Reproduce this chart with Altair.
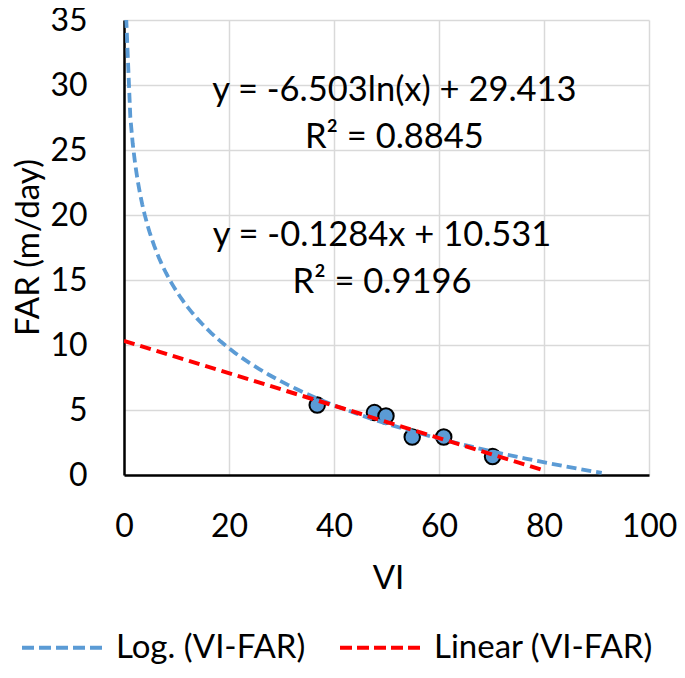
import altair as alt
import pandas as pd

vi_values = [36.8, 47.7, 49.9, 54.9, 60.9, 70.2]
far_values = [5.38, 4.80, 4.54, 2.92, 2.92, 1.42]

x_ticks = [0, 20, 40, 60, 80, 100]
y_ticks = [0, 5, 10, 15, 20, 25, 30, 35]

series_names = ["Log. (VI-FAR)", "Linear (VI-FAR)"]
series_colors = ["#5B9BD5", "#FF0000"]

log_label = ["y = -6.503ln(x) + 29.413", "R² = 0.8845"]
lin_label = ["y = -0.1284x + 10.531", "R² = 0.9196"]

df = pd.DataFrame({"VI": vi_values, "FAR": far_values})

FONT = "Lato"
FS = 32

x_enc = alt.X(
    "VI:Q",
    scale=alt.Scale(domain=[0, 100], nice=False),
    axis=alt.Axis(
        values=x_ticks, title="VI", titleX=264, titleY=103,
        titleBaseline="middle", titleAlign="center", labelPadding=36,
        labelFlush=False, titleFontSize=33,
    ),
)
y_enc = alt.Y(
    "FAR:Q",
    scale=alt.Scale(domain=[0, 35], nice=False),
    axis=alt.Axis(
        values=y_ticks, title="FAR (m/day)", titleX=-96, titleY=227,
        titleBaseline="middle", titleAlign="center", titleAngle=270,
        labelPadding=37, labelFlush=False, titleFontSize=33,
    ),
)

color_enc = alt.Color(
    "series:N",
    scale=alt.Scale(domain=series_names, range=series_colors),
    legend=alt.Legend(
        title=None, orient="none", legendX=-104, legendY=584,
        direction="horizontal", symbolType="stroke", symbolSize=6889,
        symbolStrokeWidth=4, symbolDash=[12, 5], labelFontSize=33,
        labelFont=FONT, labelColor="black", labelOffset=9,
        columnPadding=26, labelLimit=500,
    ),
)

base = alt.Chart(df)

points = base.mark_point(
    filled=True, size=240, fill="#5B9BD5", stroke="black",
    strokeWidth=2, opacity=1,
).encode(x=x_enc, y=y_enc)

log_line = base.transform_regression(
    "VI", "FAR", method="log", extent=[0.3, 91]
).transform_calculate(series="'Log. (VI-FAR)'").mark_line(
    strokeDash=[10, 5], strokeWidth=3.8, clip=True
).encode(x=x_enc, y=y_enc, color=color_enc)

lin_line = base.transform_regression(
    "VI", "FAR", method="linear", extent=[0, 80]
).transform_calculate(series="'Linear (VI-FAR)'").mark_line(
    strokeDash=[11, 6], strokeWidth=4, clip=True
).encode(x=x_enc, y=y_enc, color=color_enc)

txt_log = alt.Chart().mark_text(
    font=FONT, fontSize=34.5, align="center", baseline="alphabetic",
    lineHeight=46.6, color="black",
).encode(x=alt.datum(51.5), y=alt.datum(28.77), text=alt.value(log_label))

txt_lin = alt.Chart().mark_text(
    font=FONT, fontSize=34.5, align="center", baseline="alphabetic",
    lineHeight=46.6, color="black",
).encode(x=alt.datum(49.15), y=alt.datum(17.61), text=alt.value(lin_label))

chart = alt.layer(points, log_line, lin_line, txt_log, txt_lin).properties(
    width=525, height=455,
    autosize=alt.AutoSizeParams(type="none"),
    padding={"left": 116, "top": 12, "right": 28, "bottom": 190},
    background="white",
).configure_view(stroke=None).configure_axis(
    labelFont=FONT, titleFont=FONT, labelFontSize=FS, titleFontSize=33,
    labelColor="black", titleColor="black", titleFontWeight="normal",
    ticks=False, tickSize=0, grid=True, gridColor="#d9d9d9", gridWidth=1.5,
    domainColor="black", domainWidth=2.5,
)

chart.save("out.html", embed_options={"renderer": "svg", "actions": False})
